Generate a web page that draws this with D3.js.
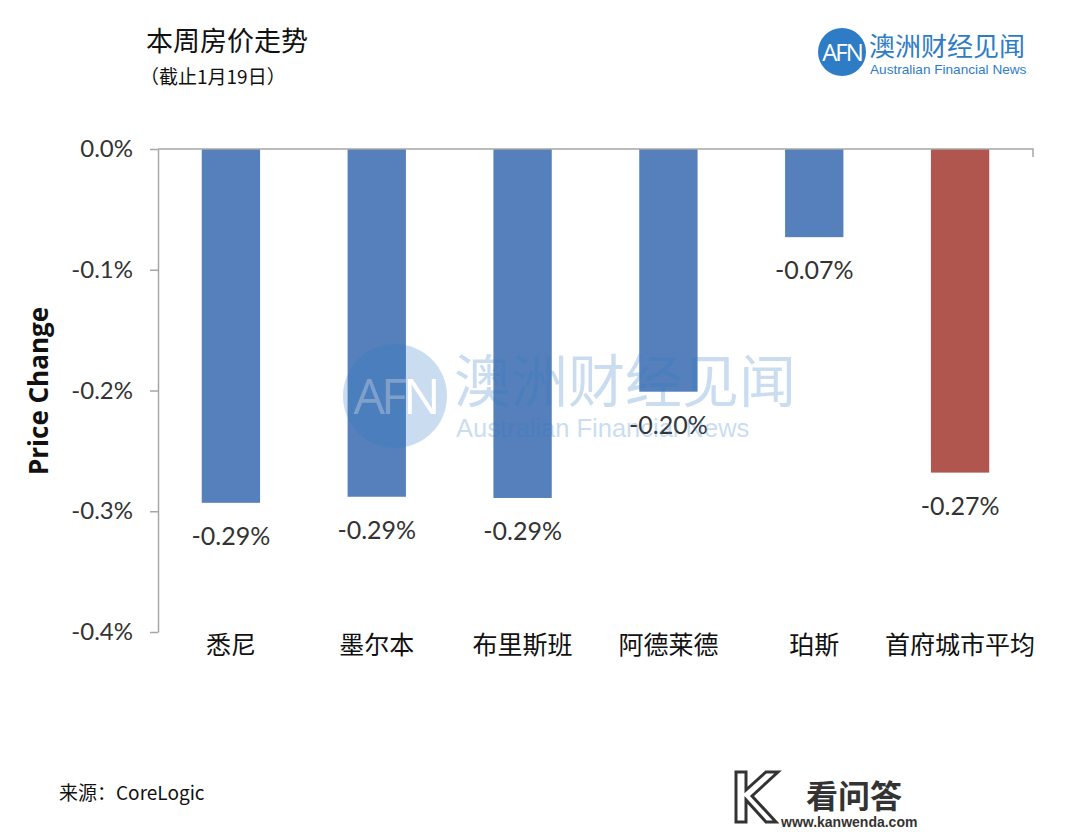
<!DOCTYPE html>
<html><head><meta charset="utf-8">
<script src="https://cdn.jsdelivr.net/npm/d3@7"></script>
<style>body{margin:0;background:#fff;}svg{display:block;}</style>
</head><body>
<script>
const categories = ["悉尼","墨尔本","布里斯班","阿德莱德","珀斯","首府城市平均"];
const values = [-0.293, -0.288, -0.289, -0.201, -0.073, -0.268];
const valueLabels = ["-0.29%","-0.29%","-0.29%","-0.20%","-0.07%","-0.27%"];
const yTicks = [0, -0.1, -0.2, -0.3, -0.4];
const yTickLabels = ["0.0%","-0.1%","-0.2%","-0.3%","-0.4%"];
const barColors = ["#5580bb","#5580bb","#5580bb","#5580bb","#5580bb","#b0564f"];

const W = 1080, H = 832;
const svg = d3.select("body").append("svg").attr("width", W).attr("height", H);
const cjk = "'Noto Sans CJK SC', 'Noto Sans', sans-serif";
const lat = "Lato, 'Open Sans', sans-serif";

const x = d3.scaleBand().domain(categories).range([158, 1033]).paddingInner(0.6).paddingOuter(0.3);
const y = d3.scaleLinear().domain([-0.4, 0]).range([632, 149]);

// y axis
const yAxis = svg.append("g").attr("transform", "translate(158,0)")
  .call(d3.axisLeft(y).tickValues(yTicks).tickSize(8).tickSizeOuter(0)
    .tickFormat((d, i) => yTickLabels[i]));
yAxis.select(".domain").attr("stroke", "#a6a6a6").attr("stroke-width", 1.5);
yAxis.selectAll(".tick line").attr("stroke", "#a6a6a6").attr("stroke-width", 1.5);
yAxis.selectAll(".tick text").attr("font-family", lat).attr("font-size", 24).attr("fill", "#333").attr("dx", -14);

// bars
svg.append("g").selectAll("rect").data(values).join("rect")
  .attr("x", (d, i) => x(categories[i]))
  .attr("y", y(0))
  .attr("width", x.bandwidth())
  .attr("height", d => y(d) - y(0))
  .attr("fill", (d, i) => barColors[i]);

// x axis at zero line
const xAxis = svg.append("g").attr("transform", `translate(0,${y(0)})`)
  .call(d3.axisBottom(x).tickSize(0).tickSizeOuter(8).tickFormat(""));
xAxis.select(".domain").attr("stroke", "#a6a6a6").attr("stroke-width", 1.5)
  .attr("d", `M158,0H1033V8`);

// category labels at bottom
svg.append("g").selectAll("text").data(categories).join("text")
  .attr("x", d => x(d) + x.bandwidth() / 2)
  .attr("y", 654)
  .attr("text-anchor", "middle")
  .attr("font-family", cjk).attr("font-size", 25).attr("fill", "#111")
  .text(d => d);

// value labels
svg.append("g").selectAll("text").data(values).join("text")
  .attr("x", (d, i) => x(categories[i]) + x.bandwidth() / 2)
  .attr("y", d => y(d) + 42)
  .attr("text-anchor", "middle")
  .attr("font-family", lat).attr("font-size", 25).attr("fill", "#333")
  .text((d, i) => valueLabels[i]);

// watermark drawn on top, translucent
const wm2 = svg.append("g").attr("opacity", 0.25);
wm2.append("circle").attr("cx", 395).attr("cy", 396).attr("r", 52).attr("fill", "#2f7cc6");
wm2.append("text").attr("x", 395).attr("y", 414).attr("text-anchor", "middle")
  .attr("font-family", "'Open Sans', sans-serif").attr("font-size", 50).attr("fill", "#fff").attr("letter-spacing", -4).text("AFN");
wm2.append("text").attr("x", 454).attr("y", 402).attr("font-family", cjk).attr("font-size", 57).attr("fill", "#2f7cc6").text("澳洲财经见闻");
wm2.append("text").attr("x", 456).attr("y", 437).attr("font-family", "Arial, 'Liberation Sans', sans-serif").attr("font-size", 25.5).attr("fill", "#2f7cc6").text("Australian Financial News");

// y axis title
svg.append("text").attr("transform", "translate(48,391) rotate(-90)")
  .attr("text-anchor", "middle").attr("font-family", "'Open Sans', sans-serif").attr("font-weight", "bold")
  .attr("font-size", 26).attr("fill", "#111").text("Price Change");

// titles
svg.append("text").attr("x", 146).attr("y", 51).attr("font-family", cjk).attr("font-size", 27).attr("fill", "#111").text("本周房价走势");
svg.append("text").attr("x", 140).attr("y", 84).attr("font-family", cjk).attr("font-size", 19).attr("fill", "#111").text("（截止1月19日）");

// top-right logo
const lg = svg.append("g");
lg.append("circle").attr("cx", 842).attr("cy", 52).attr("r", 24).attr("fill", "#2f7cc6");
lg.append("text").attr("x", 842).attr("y", 61).attr("text-anchor", "middle").attr("font-family", "'Open Sans', sans-serif")
  .attr("font-size", 24).attr("fill", "#fff").attr("letter-spacing", -2).text("AFN");
lg.append("text").attr("x", 869).attr("y", 56).attr("font-family", cjk).attr("font-size", 26).attr("fill", "#2f7cc6").text("澳洲财经见闻");
lg.append("text").attr("x", 870).attr("y", 74).attr("font-family", "Arial, 'Liberation Sans', sans-serif").attr("font-size", 13.6).attr("fill", "#2f7cc6").text("Australian Financial News");

// source
svg.append("text").attr("x", 59).attr("y", 800).attr("font-family", cjk).attr("font-size", 19).attr("fill", "#111").text("来源：CoreLogic");

// kanwenda mark
const kw = svg.append("g");
kw.append("path").attr("d", "M736,772 L746,772 L746,790 L766,772 L778,772 L752,796 L776,822 L766,822 L746,800 L746,822 L736,822 Z")
  .attr("fill", "none").attr("stroke", "#333").attr("stroke-width", 3);
kw.append("text").attr("x", 806).attr("y", 808).attr("font-family", cjk).attr("font-weight", "bold")
  .attr("font-size", 32).attr("fill", "#333").text("看问答");
kw.append("text").attr("x", 781).attr("y", 827).attr("font-family", "Arial, 'Liberation Sans', sans-serif").attr("font-weight", "bold")
  .attr("font-size", 14).attr("fill", "#333").text("www.kanwenda.com");
</script>
</body></html>
